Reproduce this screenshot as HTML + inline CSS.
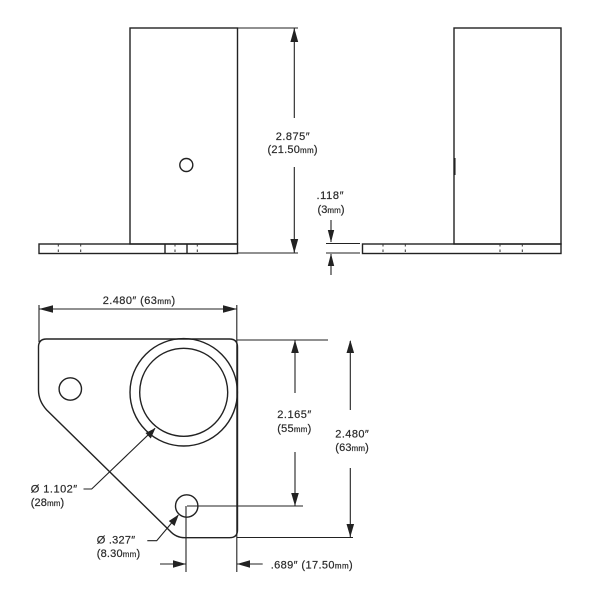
<!DOCTYPE html>
<html><head><meta charset="utf-8"><style>
html,body{margin:0;padding:0;background:#fff}
svg{display:block}
text{font-family:"Liberation Sans",sans-serif;font-size:11px;fill:#2a2a2a;stroke:#2a2a2a;stroke-width:.2}
tspan{font-size:8px}
.o{fill:none;stroke:#222;stroke-width:1.4}
.d{fill:none;stroke:#222;stroke-width:1.1}
.t{fill:none;stroke:#333;stroke-width:1;stroke-dasharray:2.5 3}
.a{fill:#222;stroke:none}
</style></head><body>
<svg width="600" height="600" viewBox="0 0 600 600" xmlns="http://www.w3.org/2000/svg">
<rect width="600" height="600" fill="#fff"/>
<!-- left elevation -->
<rect class="o" x="130" y="28" width="107.5" height="216"/>
<rect class="o" x="39" y="244" width="198.5" height="9.5" fill="#fff"/>
<circle class="o" cx="186.3" cy="165" r="6.5"/>
<path class="o" d="M165 244V253.5M187 244V253.5"/>
<path class="t" d="M58.3 244V253.5M80.7 244V253.5M175 244V253.5M197.3 244V253.5"/>
<!-- right elevation -->
<rect class="o" x="454" y="28" width="107" height="216"/>
<rect class="o" x="362.5" y="244" width="198.5" height="9.5"/>
<path class="t" d="M383 244V253.5M405.3 244V253.5M500 244V253.5M522.3 244V253.5"/>
<path class="d" d="M455 158V175"/>
<!-- 2.875 dim -->
<path class="d" d="M238 28H298M238 253H298M294.3 28V118M294.3 167V253"/>
<path class="a" d="M294.3 28L298.2 42H290.4ZM294.3 253L298.2 239H290.4Z"/>
<text x="275.7" y="140" textLength="34">2.875″</text>
<text x="267.5" y="153" textLength="50">(21.50<tspan>mm</tspan>)</text>
<!-- .118 dim -->
<path class="d" d="M326 243.5H360M326 253H360M331 220V242M331 254V275"/>
<path class="a" d="M331 242.5L334.2 230H327.8ZM331 253.5L334.2 266H327.8Z"/>
<text x="316.5" y="199" textLength="27">.118″</text>
<text x="317.5" y="213" textLength="27">(3<tspan>mm</tspan>)</text>
<!-- plan view -->
<path class="o" d="M46.5 339H229.5Q237.5 339 237.5 347V530Q237.5 537.7 229.5 537.7H185Q176 537.7 170 531L46.7 410Q38.5 401 38.5 390V347Q38.5 339 46.5 339Z"/>
<circle class="o" cx="183.7" cy="392.3" r="53.7"/>
<circle class="o" cx="183.7" cy="392.3" r="44"/>
<circle class="o" cx="70.3" cy="389" r="11.2"/>
<circle class="o" cx="186.7" cy="506" r="11.2"/>
<!-- top dim -->
<path class="d" d="M39 305V342M236.8 305V572M39 309H237"/>
<path class="a" d="M39 309L53 305.2V312.8ZM237 309L223 305.2V312.8Z"/>
<text x="102.7" y="304" textLength="72.5">2.480″ (63<tspan>mm</tspan>)</text>
<!-- right dims -->
<path class="d" d="M237 340H328M187 506H303M237 537.5H353M295 340V393M295 452V506M350.3 341V410M350.3 468V537"/>
<path class="a" d="M295 340L298.8 353H291.2ZM295 506L298.8 493H291.2ZM350.3 340L354.1 353H346.5ZM350.3 537L354.1 524H346.5Z"/>
<text x="277.3" y="418" textLength="34">2.165″</text>
<text x="277.3" y="432" textLength="34">(55<tspan>mm</tspan>)</text>
<text x="335.3" y="437.5" textLength="33.5">2.480″</text>
<text x="335.3" y="451" textLength="33.5">(63<tspan>mm</tspan>)</text>
<!-- bottom dim -->
<path class="d" d="M186 506V572M160 564H186M237 564H262.7"/>
<path class="a" d="M186 564L173 560.2V567.8ZM237 564L250 560.2V567.8Z"/>
<text x="270.7" y="568.5" textLength="82">.689″ (17.50<tspan>mm</tspan>)</text>
<!-- leaders -->
<path class="d" d="M83.5 489H91.7L155 428.3M147.3 540.7H156.7L178.3 515"/>
<path class="a" d="M155.5 428L150.8 438.5L145.5 433ZM178.8 514.5L174.5 526L168.8 521Z"/>
<text x="30.7" y="492.5" textLength="46.5">Ø 1.102″</text>
<text x="30.7" y="506" textLength="33.5">(28<tspan>mm</tspan>)</text>
<text x="96.7" y="543.5" textLength="38.5">Ø .327″</text>
<text x="96.7" y="557" textLength="43.5">(8.30<tspan>mm</tspan>)</text>
</svg>
</body></html>
